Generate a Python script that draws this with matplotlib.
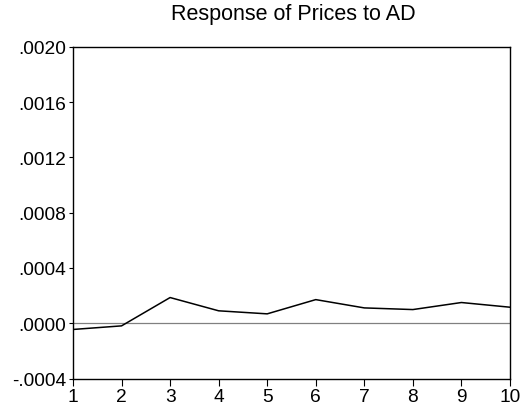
import numpy as np
import matplotlib.pyplot as plt
from matplotlib.ticker import FuncFormatter

plt.rcParams['font.family'] = ['Liberation Sans', 'DejaVu Sans']

# impulse response values
periods = [1, 2, 3, 4, 5, 6, 7, 8, 9, 10]
response = [-0.000045, -0.000019, 0.000186, 0.000090, 0.000068,
            0.000171, 0.000111, 0.000099, 0.000150, 0.000116]
yticks = [-0.0004, 0.0, 0.0004, 0.0008, 0.0012, 0.0016, 0.0020]
title = "Response of Prices to AD"


def fmt(v, pos):
    s = "%.4f" % v
    if s.startswith("-0"):
        return "-" + s[2:]
    if s.startswith("0"):
        return s[1:]
    return s


fig = plt.figure(figsize=(5.29, 4.14), dpi=100)
ax = fig.add_axes([0.138, 0.0833, 0.826, 0.801])

ax.axhline(0, color='#808080', lw=0.9, zorder=1)
ax.plot(periods, response, color='black', lw=1.1, zorder=2)

ax.set_xlim(1, 10)
ax.set_ylim(-0.0004, 0.0020)
ax.set_xticks(periods)
ax.set_yticks(yticks)
ax.yaxis.set_major_formatter(FuncFormatter(fmt))

ax.tick_params(axis='y', direction='out', length=3, width=0.8, labelsize=13.8, pad=2)
ax.tick_params(axis='x', direction='out', length=5, width=0.8, labelsize=13.8, pad=2)
for sp in ax.spines.values():
    sp.set_linewidth(1.0)

fig.text(0.555, 0.964, title, ha='center', va='center', fontsize=15.5)

fig.savefig("out.png", dpi=100)
